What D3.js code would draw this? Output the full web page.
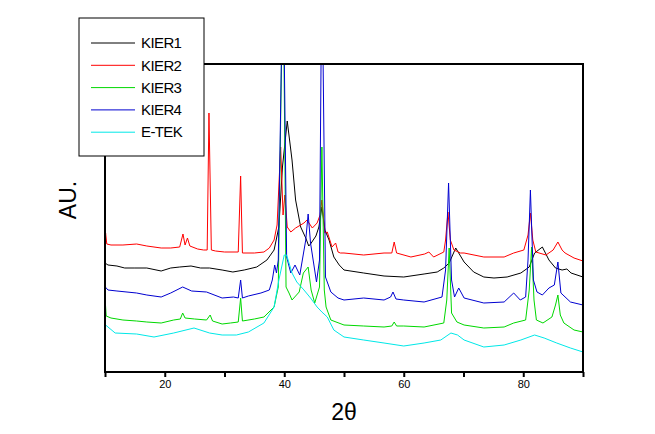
<!DOCTYPE html>
<html>
<head>
<meta charset="utf-8">
<script src="https://cdn.jsdelivr.net/npm/d3@7"></script>
<style>
  body { margin: 0; background: #fff; }
  svg { display: block; font-family: "Liberation Sans", Arial, sans-serif; }
</style>
</head>
<body>
<svg id="viz"></svg>
<script>
const width = 655;
const height = 434;

// XRD patterns: [2theta, intensity in A.U.]
const kier1 = [[10.0,109],[10.5,107],[12,106],[13.3,104],[15,104],[17,104],[19.4,101],[21,104],[22.5,105],[24.4,106],[26,104],[27.5,104],[29.6,102],[31.4,100],[33.3,102],[35.4,105],[37.1,112],[38.3,122],[39.1,145],[39.7,205],[40.5,251],[41.3,212],[41.9,172],[42.75,145],[43.6,134],[44.1,126],[44.4,128],[45.3,136],[45.8,145],[46.3,165],[46.8,142],[47.5,132],[48.3,115],[49.2,107],[50,102],[53.3,99],[56.7,96],[60,95],[63.4,98],[65.6,100],[66.7,104],[67.6,109],[68.7,124],[69.4,117],[70.1,110],[71.7,100],[73.4,95],[75.1,94],[77.3,95],[79.6,99],[81,105],[81.9,119],[83.2,125],[84.3,112],[85.4,104],[86.5,102],[87.3,103],[88,99],[90,95]];
const kier2 = [[10.0,127],[10.1,139],[10.3,128],[11,127],[13,127],[15.3,128],[17,126],[19.4,124],[21,124],[22.5,125],[23.05,138],[23.4,127],[23.8,134],[24.2,126],[25.5,123],[26.5,122],[27.1,122],[27.4,259],[27.8,122],[28.5,121],[30,120],[32.3,120],[32.7,196],[33,119],[35,119],[36.6,120],[37.5,124],[38.3,132],[38.8,147],[39.4,225],[39.8,157],[40.1,177],[40.5,145],[41.1,140],[41.9,144],[43.3,149],[43.8,152],[44.7,144],[45.5,149],[46,157],[46.3,172],[46.8,139],[47.2,140],[48,125],[48.6,129],[49,120],[49.4,119],[50,119],[53.3,117],[56.7,119],[58,119],[58.4,130],[58.8,119],[61.2,115],[63.5,118],[64.2,120],[65,115],[66.7,120],[67,132],[67.4,160],[67.8,132],[68.4,122],[69.5,119],[70.1,119],[73.4,115],[76.8,115],[78.4,119],[80.1,122],[80.8,137],[81.2,159],[81.6,132],[82.1,120],[83.8,117],[85,122],[85.8,130],[86.5,122],[87,119],[88.5,114],[90,111]];
const kier3 = [[10.0,54],[10.05,70],[10.2,56],[11,54],[13,52],[15.3,51],[17,50],[19.4,49],[21.5,52],[22.6,53],[23,59],[23.4,54],[25,53],[27,52],[27.6,57],[28,51],[29.6,48],[31,49],[32.3,50],[32.7,74],[33,51],[35,53],[36.6,55],[38.3,65],[39,85],[39.8,420],[40.3,85],[40.8,79],[41.3,72],[42.5,80],[43.2,99],[44,105],[44.5,82],[45.1,69],[45.9,85],[46.3,225],[46.7,82],[47,65],[47.8,52],[50,47],[53.3,46],[56.7,45],[58,46],[58.4,50],[58.8,46],[60,46],[63.4,45],[66.7,49],[67.2,72],[67.6,124],[68,59],[68.9,50],[70.1,47],[73.4,44],[76.8,45],[78.4,49],[80.4,52],[81,82],[81.4,125],[81.8,72],[82.2,52],[83.3,49],[84.8,55],[85.4,67],[85.8,77],[86.2,57],[86.8,49],[88.5,42],[90,40]];
const kier4 = [[10.0,82],[10.05,85],[10.5,82],[12,81],[15.3,79],[17,77],[19.4,75],[21,79],[23,85],[24.5,81],[27,80],[29.6,74],[31.5,75],[32.3,74],[32.7,92],[33,74],[34,76],[36.1,79],[37.5,82],[38,92],[38.4,107],[38.7,99],[39,112],[39.8,420],[40.4,115],[41.1,99],[41.8,107],[42.6,97],[43.6,132],[44,158],[44.4,129],[45.4,90],[45.9,112],[46.3,420],[46.9,95],[47.8,80],[49,74],[50,72],[53.3,74],[56.7,72],[57.8,75],[58.2,80],[58.7,73],[60,72],[63.4,70],[66.4,75],[67,102],[67.5,189],[68,92],[68.5,75],[69.2,84],[70.1,74],[73.4,69],[76.8,70],[78.4,79],[79.5,72],[80.4,75],[80.8,112],[81.2,182],[81.7,92],[82.3,80],[83.2,77],[84.3,84],[85.2,87],[85.8,110],[86.3,79],[87.9,70],[90,67]];
const etek = [[10.0,45],[10.1,47],[11.7,39],[15.3,38],[18.2,35],[21.5,39],[24.9,44],[27.5,39],[29.6,37],[32,37],[34,40],[36.6,49],[38.3,65],[39.1,92],[40,117],[40.4,117],[40.9,107],[41.3,99],[42.1,90],[43.3,82],[44.4,74],[45.5,65],[46.3,60],[47.2,55],[48.3,42],[50,35],[53.3,32],[56.7,29],[60,26],[63.4,29],[66.2,32],[67.9,39],[69,37],[70.1,32],[73.4,25],[76.8,27],[79.6,32],[81.9,37],[83.5,34],[85.6,29],[87.9,24],[90,20]];

const seriesNames = ["KIER1", "KIER2", "KIER3", "KIER4", "E-TEK"];
const seriesColors = ["#000000", "#ff0000", "#00d800", "#0000d0", "#00e8e8"];
const seriesData = [kier1, kier2, kier3, kier4, etek];
const xTicks = [10, 20, 30, 40, 50, 60, 70, 80, 90];
const xTickLabels = [20, 40, 60, 80];

const margin = { left: 105, right: 72, top: 64, bottom: 62 };

const svg = d3.select("#viz").attr("width", width).attr("height", height);

const x = d3.scaleLinear().domain([10, 90]).range([margin.left, width - margin.right]);
const y = d3.scaleLinear().domain([0, 308]).range([height - margin.bottom, margin.top]);

svg.append("clipPath").attr("id", "plotclip")
    .append("rect")
    .attr("x", x(10)).attr("y", y(308))
    .attr("width", x(90) - x(10)).attr("height", y(0) - y(308));

const line = d3.line()
    .x(function (d) { return x(d[0]); })
    .y(function (d) { return y(d[1]); });

const plot = svg.append("g").attr("clip-path", "url(#plotclip)");
seriesData.forEach(function (s, i) {
    plot.append("path")
        .datum(s)
        .attr("fill", "none")
        .attr("stroke", seriesColors[i])
        .attr("stroke-width", 1)
        .attr("stroke-linejoin", "round")
        .attr("d", line);
});

// frame
svg.append("rect")
    .attr("x", x(10)).attr("y", y(308))
    .attr("width", x(90) - x(10)).attr("height", y(0) - y(308))
    .attr("fill", "none")
    .attr("stroke", "#000")
    .attr("stroke-width", 2);

const xAxis = d3.axisBottom(x)
    .tickValues(xTicks)
    .tickSize(5)
    .tickPadding(3)
    .tickFormat(function (d) { return xTickLabels.indexOf(d) >= 0 ? d : ""; });

const gx = svg.append("g")
    .attr("transform", "translate(0," + y(0) + ")")
    .call(xAxis);
gx.select(".domain").remove();
gx.selectAll(".tick line").attr("stroke", "#000").attr("stroke-width", 2);
gx.selectAll(".tick text")
    .attr("fill", "#000")
    .style("font-size", "11px")
    .style("font-family", "'Liberation Sans', Arial, sans-serif");

svg.append("text")
    .attr("x", x(50))
    .attr("y", 420)
    .attr("text-anchor", "middle")
    .style("font-size", "23px")
    .text("2θ");

svg.append("text")
    .attr("transform", "translate(76,200) rotate(-90)")
    .attr("text-anchor", "middle")
    .style("font-size", "23px")
    .text("AU.");

// legend
const legend = svg.append("g");
legend.append("rect")
    .attr("x", 79).attr("y", 18)
    .attr("width", 125).attr("height", 138)
    .attr("fill", "#fff")
    .attr("stroke", "#000")
    .attr("stroke-width", 1);

seriesNames.forEach(function (name, i) {
    const ly = 43 + i * 22.3;
    legend.append("line")
        .attr("x1", 91).attr("x2", 135)
        .attr("y1", ly).attr("y2", ly)
        .attr("stroke", seriesColors[i])
        .attr("stroke-width", 1);
    legend.append("text")
        .attr("x", 141)
        .attr("y", ly)
        .attr("dy", "0.35em")
        .style("font-size", "15px")
        .style("letter-spacing", "-0.6px")
        .text(name);
});
</script>
</body>
</html>
